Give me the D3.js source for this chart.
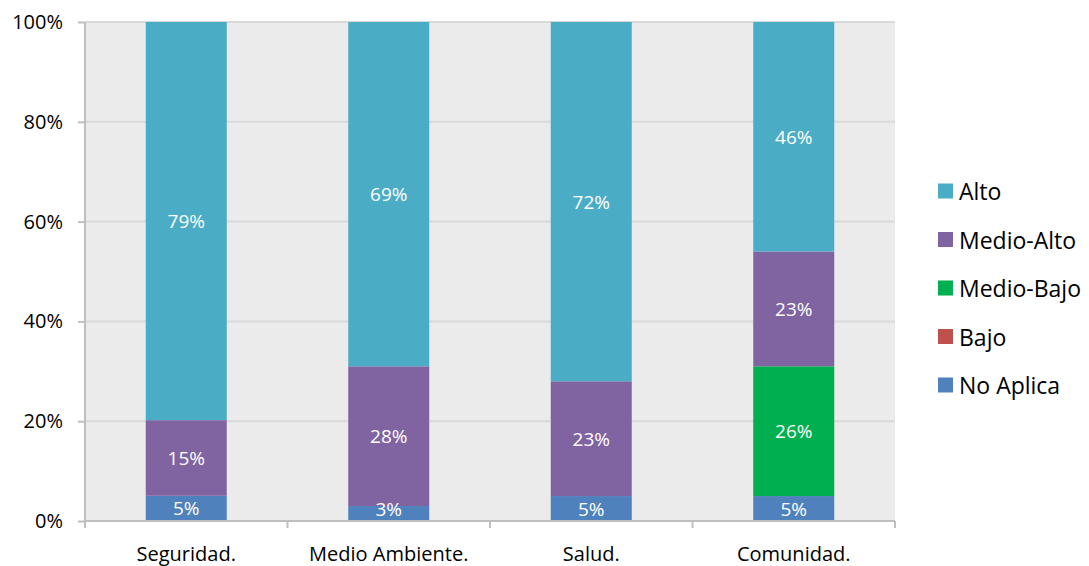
<!DOCTYPE html>
<html><head><meta charset="utf-8">
<script src="https://cdn.jsdelivr.net/npm/d3@7"></script>
<style>body{margin:0;background:#fff;}svg{display:block;font-family:"Open Sans",sans-serif;}</style>
</head><body><svg id="c" width="1089" height="566"></svg>
<script>
const categories = ["Seguridad.", "Medio Ambiente.", "Salud.", "Comunidad."];
const seriesNames = ["No Aplica", "Bajo", "Medio-Bajo", "Medio-Alto", "Alto"];
const noAplica  = [5, 3, 5, 5];
const bajo      = [0, 0, 0, 0];
const medioBajo = [0, 0, 0, 26];
const medioAlto = [15, 28, 23, 23];
const alto      = [79, 69, 72, 46];
const yTicks = [0, 0.2, 0.4, 0.6, 0.8, 1];
const colors = {"No Aplica":"#4f81bd","Bajo":"#c0504d","Medio-Bajo":"#00b050","Medio-Alto":"#8064a2","Alto":"#4bacc6"};
const legendOrder = ["Alto", "Medio-Alto", "Medio-Bajo", "Bajo", "No Aplica"];

const seriesVals = {"No Aplica":noAplica,"Bajo":bajo,"Medio-Bajo":medioBajo,"Medio-Alto":medioAlto,"Alto":alto};
const rows = categories.map((c,i)=>{
  const r = {cat:c};
  seriesNames.forEach(s=>r[s]=seriesVals[s][i]);
  return r;
});
const stack = d3.stack().keys(seriesNames).offset(d3.stackOffsetExpand);
const layers = stack(rows);

const svg = d3.select("#c");
const L=85, R=895, T=22, B=521;
const x = d3.scaleBand().domain(categories).range([L,R]).paddingInner(0.6).paddingOuter(0.3);
const xb = d3.scaleBand().domain(categories).range([L,R]);
const y = d3.scaleLinear().domain([0,1]).range([B,T]);

svg.append("rect").attr("x",L).attr("y",T).attr("width",R-L).attr("height",B-T).attr("fill","#ebebeb");
svg.append("g").selectAll("line").data(yTicks.filter(t=>t>0)).join("line")
  .attr("x1",L).attr("x2",R).attr("y1",d=>y(d)).attr("y2",d=>y(d))
  .attr("stroke","#d9d9d9").attr("stroke-width",2);

const g = svg.append("g");
layers.forEach(layer=>{
  const key = layer.key;
  g.append("g").selectAll("rect").data(layer).join("rect")
    .attr("x",d=>x(d.data.cat)).attr("width",x.bandwidth())
    .attr("y",d=>y(d[1])).attr("height",d=>Math.max(0,y(d[0])-y(d[1])))
    .attr("fill",colors[key]);
});
layers.forEach(layer=>{
  const key = layer.key;
  g.append("g").selectAll("text").data(layer.filter(d=>d.data[key]>0)).join("text")
    .attr("x",d=>x(d.data.cat)+x.bandwidth()/2)
    .attr("y",d=>Math.min((y(d[0])+y(d[1]))/2, B-12))
    .attr("text-anchor","middle").attr("dominant-baseline","central")
    .attr("fill","#fff").attr("font-size",19)
    .text(d=>d.data[key]+"%");
});

// y axis
const yAxis = d3.axisLeft(y).tickValues(yTicks).tickFormat(d3.format(".0%")).tickSize(7).tickPadding(15);
const ya = svg.append("g").attr("transform",`translate(${L},0)`).call(yAxis);
ya.select(".domain").attr("stroke","#bfbfbf").attr("stroke-width",2).attr("d",`M0,${T}V${B}`);
ya.selectAll(".tick line").attr("stroke","#bfbfbf").attr("stroke-width",2);
ya.selectAll("text").attr("font-size",20).attr("fill","#000").attr("font-family","Open Sans");

// x axis
const xa = svg.append("g").attr("transform",`translate(0,${B})`);
xa.append("line").attr("x1",L).attr("x2",R).attr("y1",0).attr("y2",0).attr("stroke","#bfbfbf").attr("stroke-width",2);
const bounds = categories.map(c=>xb(c)).concat([R]);
xa.selectAll("line.tk").data(bounds).join("line").attr("class","tk")
  .attr("x1",d=>d).attr("x2",d=>d).attr("y1",0).attr("y2",7).attr("stroke","#bfbfbf").attr("stroke-width",2);
xa.selectAll("text").data(categories).join("text")
  .attr("x",d=>xb(d)+xb.bandwidth()/2).attr("y",32)
  .attr("text-anchor","middle").attr("dominant-baseline","central")
  .attr("font-size",20).attr("fill","#000").text(d=>d);

// legend
const lg = svg.append("g");
legendOrder.forEach((s,i)=>{
  const cy = 191 + i*48.5;
  lg.append("rect").attr("x",938).attr("y",cy-7.5).attr("width",15).attr("height",15).attr("fill",colors[s]);
  lg.append("text").attr("x",959).attr("y",cy).attr("dominant-baseline","central")
    .attr("font-size",23).attr("fill","#000").text(s);
});
</script></body></html>
